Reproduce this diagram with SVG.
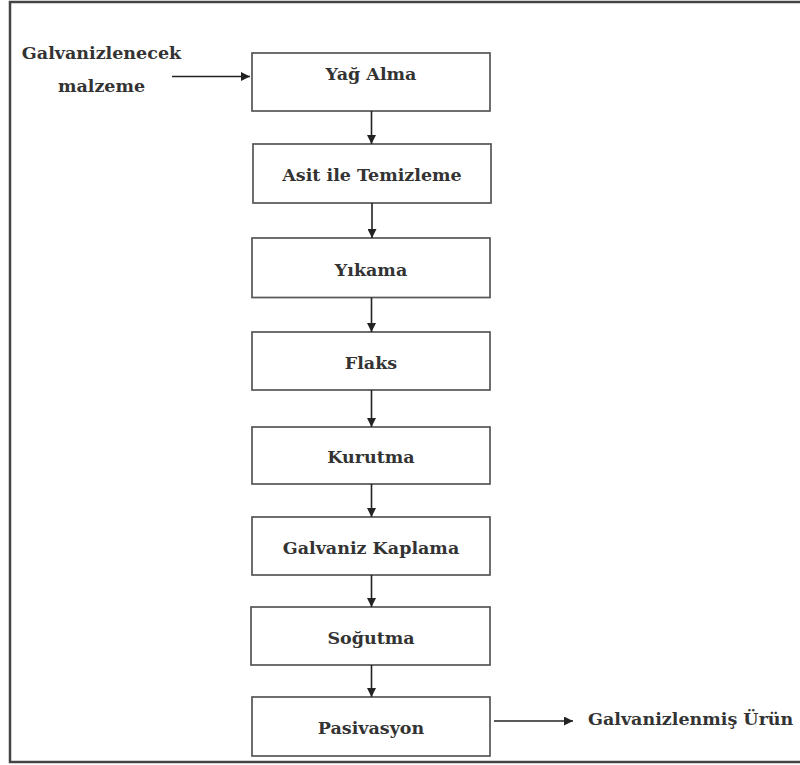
<svg xmlns="http://www.w3.org/2000/svg" width="800" height="765" viewBox="0 0 800 765">
  <style>
    .box { fill: #ffffff; stroke: #555555; stroke-width: 1.7; }
    .lbl { font-family: "DejaVu Serif", "Liberation Serif", serif; font-weight: bold; font-size: 17.5px; fill: #333333; text-anchor: middle; }
    .side { font-family: "DejaVu Serif", "Liberation Serif", serif; font-weight: bold; font-size: 17.5px; fill: #333333; }
    .conn { stroke: #222222; stroke-width: 1.6; fill: none; marker-end: url(#arr); }
    .frame { fill: none; stroke: #444444; stroke-width: 2.5; }
  </style>
  <defs>
    <marker id="arr" viewBox="0 0 10 10" refX="10" refY="5" markerWidth="11" markerHeight="9" markerUnits="userSpaceOnUse" orient="auto">
      <path d="M0,0 L10,5 L0,10 z" fill="#222222"/>
    </marker>
  </defs>
  <rect x="0" y="0" width="800" height="765" fill="#ffffff"/>
  <rect class="frame" x="10" y="2" width="800" height="760"/>

  <g id="input">
    <text class="side" x="101.5" y="59" text-anchor="middle">Galvanizlenecek</text>
    <text class="side" x="101.5" y="92" text-anchor="middle">malzeme</text>
  </g>

  <g id="yag-alma">
    <rect class="box" x="252" y="53" width="238" height="58"/>
    <text class="lbl" x="371" y="80">Yağ Alma</text>
  </g>
  <g id="asit">
    <rect class="box" x="253" y="144" width="238" height="59"/>
    <text class="lbl" x="372" y="181">Asit ile Temizleme</text>
  </g>
  <g id="yikama">
    <rect class="box" x="252" y="238" width="238" height="59.5"/>
    <text class="lbl" x="371" y="276">Yıkama</text>
  </g>
  <g id="flaks">
    <rect class="box" x="252" y="332" width="238" height="58"/>
    <text class="lbl" x="371" y="369">Flaks</text>
  </g>
  <g id="kurutma">
    <rect class="box" x="252" y="427" width="238" height="57"/>
    <text class="lbl" x="371" y="463">Kurutma</text>
  </g>
  <g id="galvaniz-kaplama">
    <rect class="box" x="252" y="517" width="238" height="58"/>
    <text class="lbl" x="371" y="554">Galvaniz Kaplama</text>
  </g>
  <g id="sogutma">
    <rect class="box" x="251" y="607" width="239" height="58"/>
    <text class="lbl" x="371" y="644">Soğutma</text>
  </g>
  <g id="pasivasyon">
    <rect class="box" x="252" y="697" width="238" height="59"/>
    <text class="lbl" x="371" y="734">Pasivasyon</text>
  </g>

  <g id="output">
    <text class="side" x="588" y="725">Galvanizlenmiş Ürün</text>
  </g>

  <g id="connectors">
    <line class="conn" x1="172" y1="76.5" x2="250" y2="76.5"/>
    <line class="conn" x1="371.5" y1="111" x2="371.5" y2="144"/>
    <line class="conn" x1="372" y1="203" x2="372" y2="238"/>
    <line class="conn" x1="371.5" y1="297.5" x2="371.5" y2="332"/>
    <line class="conn" x1="371.5" y1="390" x2="371.5" y2="427"/>
    <line class="conn" x1="371.5" y1="484" x2="371.5" y2="517"/>
    <line class="conn" x1="371.5" y1="575" x2="371.5" y2="607"/>
    <line class="conn" x1="371.5" y1="665" x2="371.5" y2="697"/>
    <line class="conn" x1="494" y1="721" x2="573" y2="721"/>
  </g>
</svg>
